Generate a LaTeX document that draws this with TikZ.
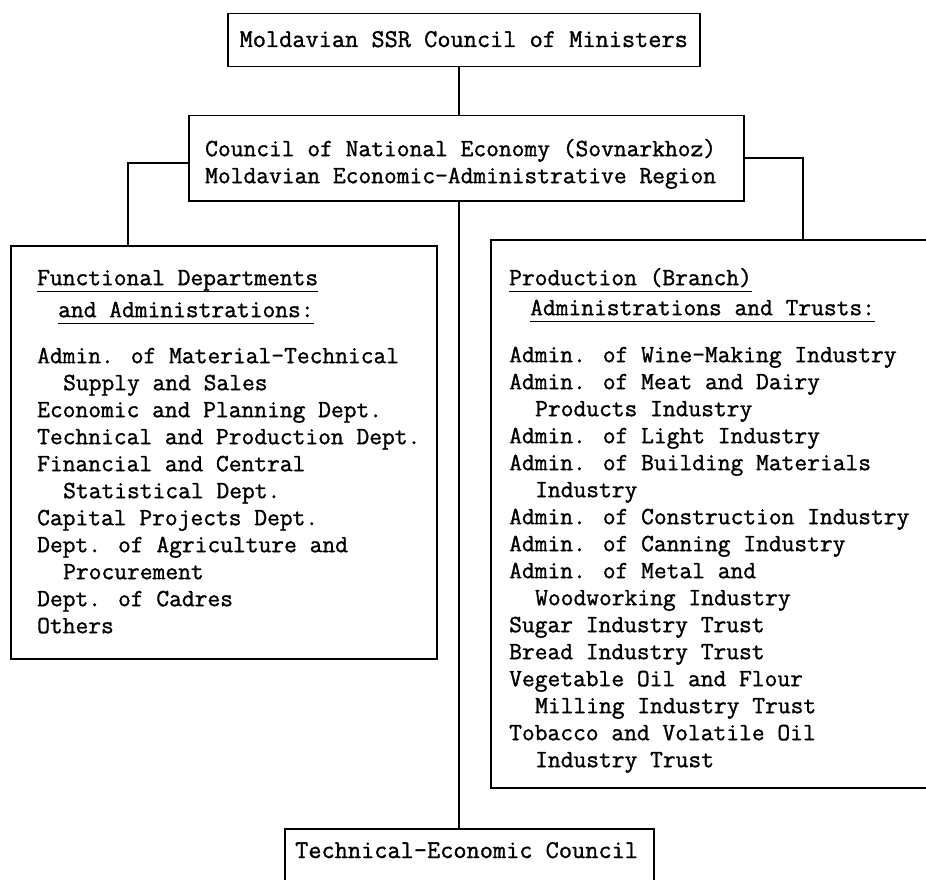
\documentclass[tikz,border=0pt]{standalone}
\usepackage{fontspec}
\newfontfamily\twfont{Latin Modern Mono}[FakeBold=1.2]
\newcommand\myul[1]{\setbox0\hbox{#1}\rlap{\rule[-7pt]{\wd0}{1.4pt}}\box0}
\tikzset{
 boxshape/.style={draw, line width=1.5pt, inner sep=0pt, anchor=north west},
 txt/.style={inner sep=0pt, font=\twfont\fontsize{24.8}{27}\selectfont, align=left, anchor=north west},
 bigtxt/.style={inner sep=0pt, font=\twfont\fontsize{25.6}{27}\selectfont, anchor=base},
 link/.style={line width=1.5pt},
}
\begin{document}
\begin{tikzpicture}[x=1pt,y=1pt]
\useasboundingbox (0,0) rectangle (926,-880);
\clip (0,0) rectangle (926,-880);
% boxes
\node[boxshape, minimum width=472pt, minimum height=53pt] (top) at (227,-13) {};
\node[boxshape, minimum width=555pt, minimum height=85pt] (sov) at (188,-115) {};
\node[boxshape, minimum width=426pt, minimum height=413pt] (lbox) at (10,-245) {};
\node[boxshape, minimum width=500pt, minimum height=548pt] (rbox) at (490,-239) {};
\node[boxshape, minimum width=369pt, minimum height=100pt] (bbox) at (284,-828) {};
% texts
\node[bigtxt] (toptxt) at (top.center |- 0,-47) {Moldavian SSR Council of Ministers};
\node[txt] (sovtxt) at (205,-136) {\rule{0pt}{20pt}Council of National Economy (Sovnarkhoz)\\
Moldavian Economic-Administrative Region};
\node[txt] (ltxt) at (37,-265) {\rule{0pt}{20pt}\myul{Functional Departments}\\[5pt]
\hspace*{21pt}\myul{and Administrations:}\\[19pt]
Admin. of Material-Technical\\
\hspace*{26pt}Supply and Sales\\
Economic and Planning Dept.\\
Technical and Production Dept.\\
Financial and Central\\
\hspace*{26pt}Statistical Dept.\\
Capital Projects Dept.\\
Dept. of Agriculture and\\
\hspace*{26pt}Procurement\\
Dept. of Cadres\\
Others};
\node[txt] (rtxt) at (509,-265) {\rule{0pt}{20pt}\myul{Production (Branch)}\\[3pt]
\hspace*{21pt}\myul{Administrations and Trusts:}\\[20pt]
Admin. of Wine-Making Industry\\
Admin. of Meat and Dairy\\
\hspace*{26pt}Products Industry\\
Admin. of Light Industry\\
Admin. of Building Materials\\
\hspace*{26pt}Industry\\
Admin. of Construction Industry\\
Admin. of Canning Industry\\
Admin. of Metal and\\
\hspace*{26pt}Woodworking Industry\\
Sugar Industry Trust\\
Bread Industry Trust\\
Vegetable Oil and Flour\\
\hspace*{26pt}Milling Industry Trust\\
Tobacco and Volatile Oil\\
\hspace*{26pt}Industry Trust};
\node[bigtxt, anchor=base west] (btxt) at (295,-858) {Technical-Economic Council};
% connectors
\draw[link] (top.south -| 459,0) -- (sov.north -| 459,0);
\draw[link] (sov.west |- 0,-163) -| (lbox.north -| 128,0);
\draw[link] (sov.east |- 0,-158) -| (rbox.north -| 803,0);
\draw[link] (sov.south -| 459,0) -- (bbox.north -| 459,0);
\end{tikzpicture}
\end{document}
